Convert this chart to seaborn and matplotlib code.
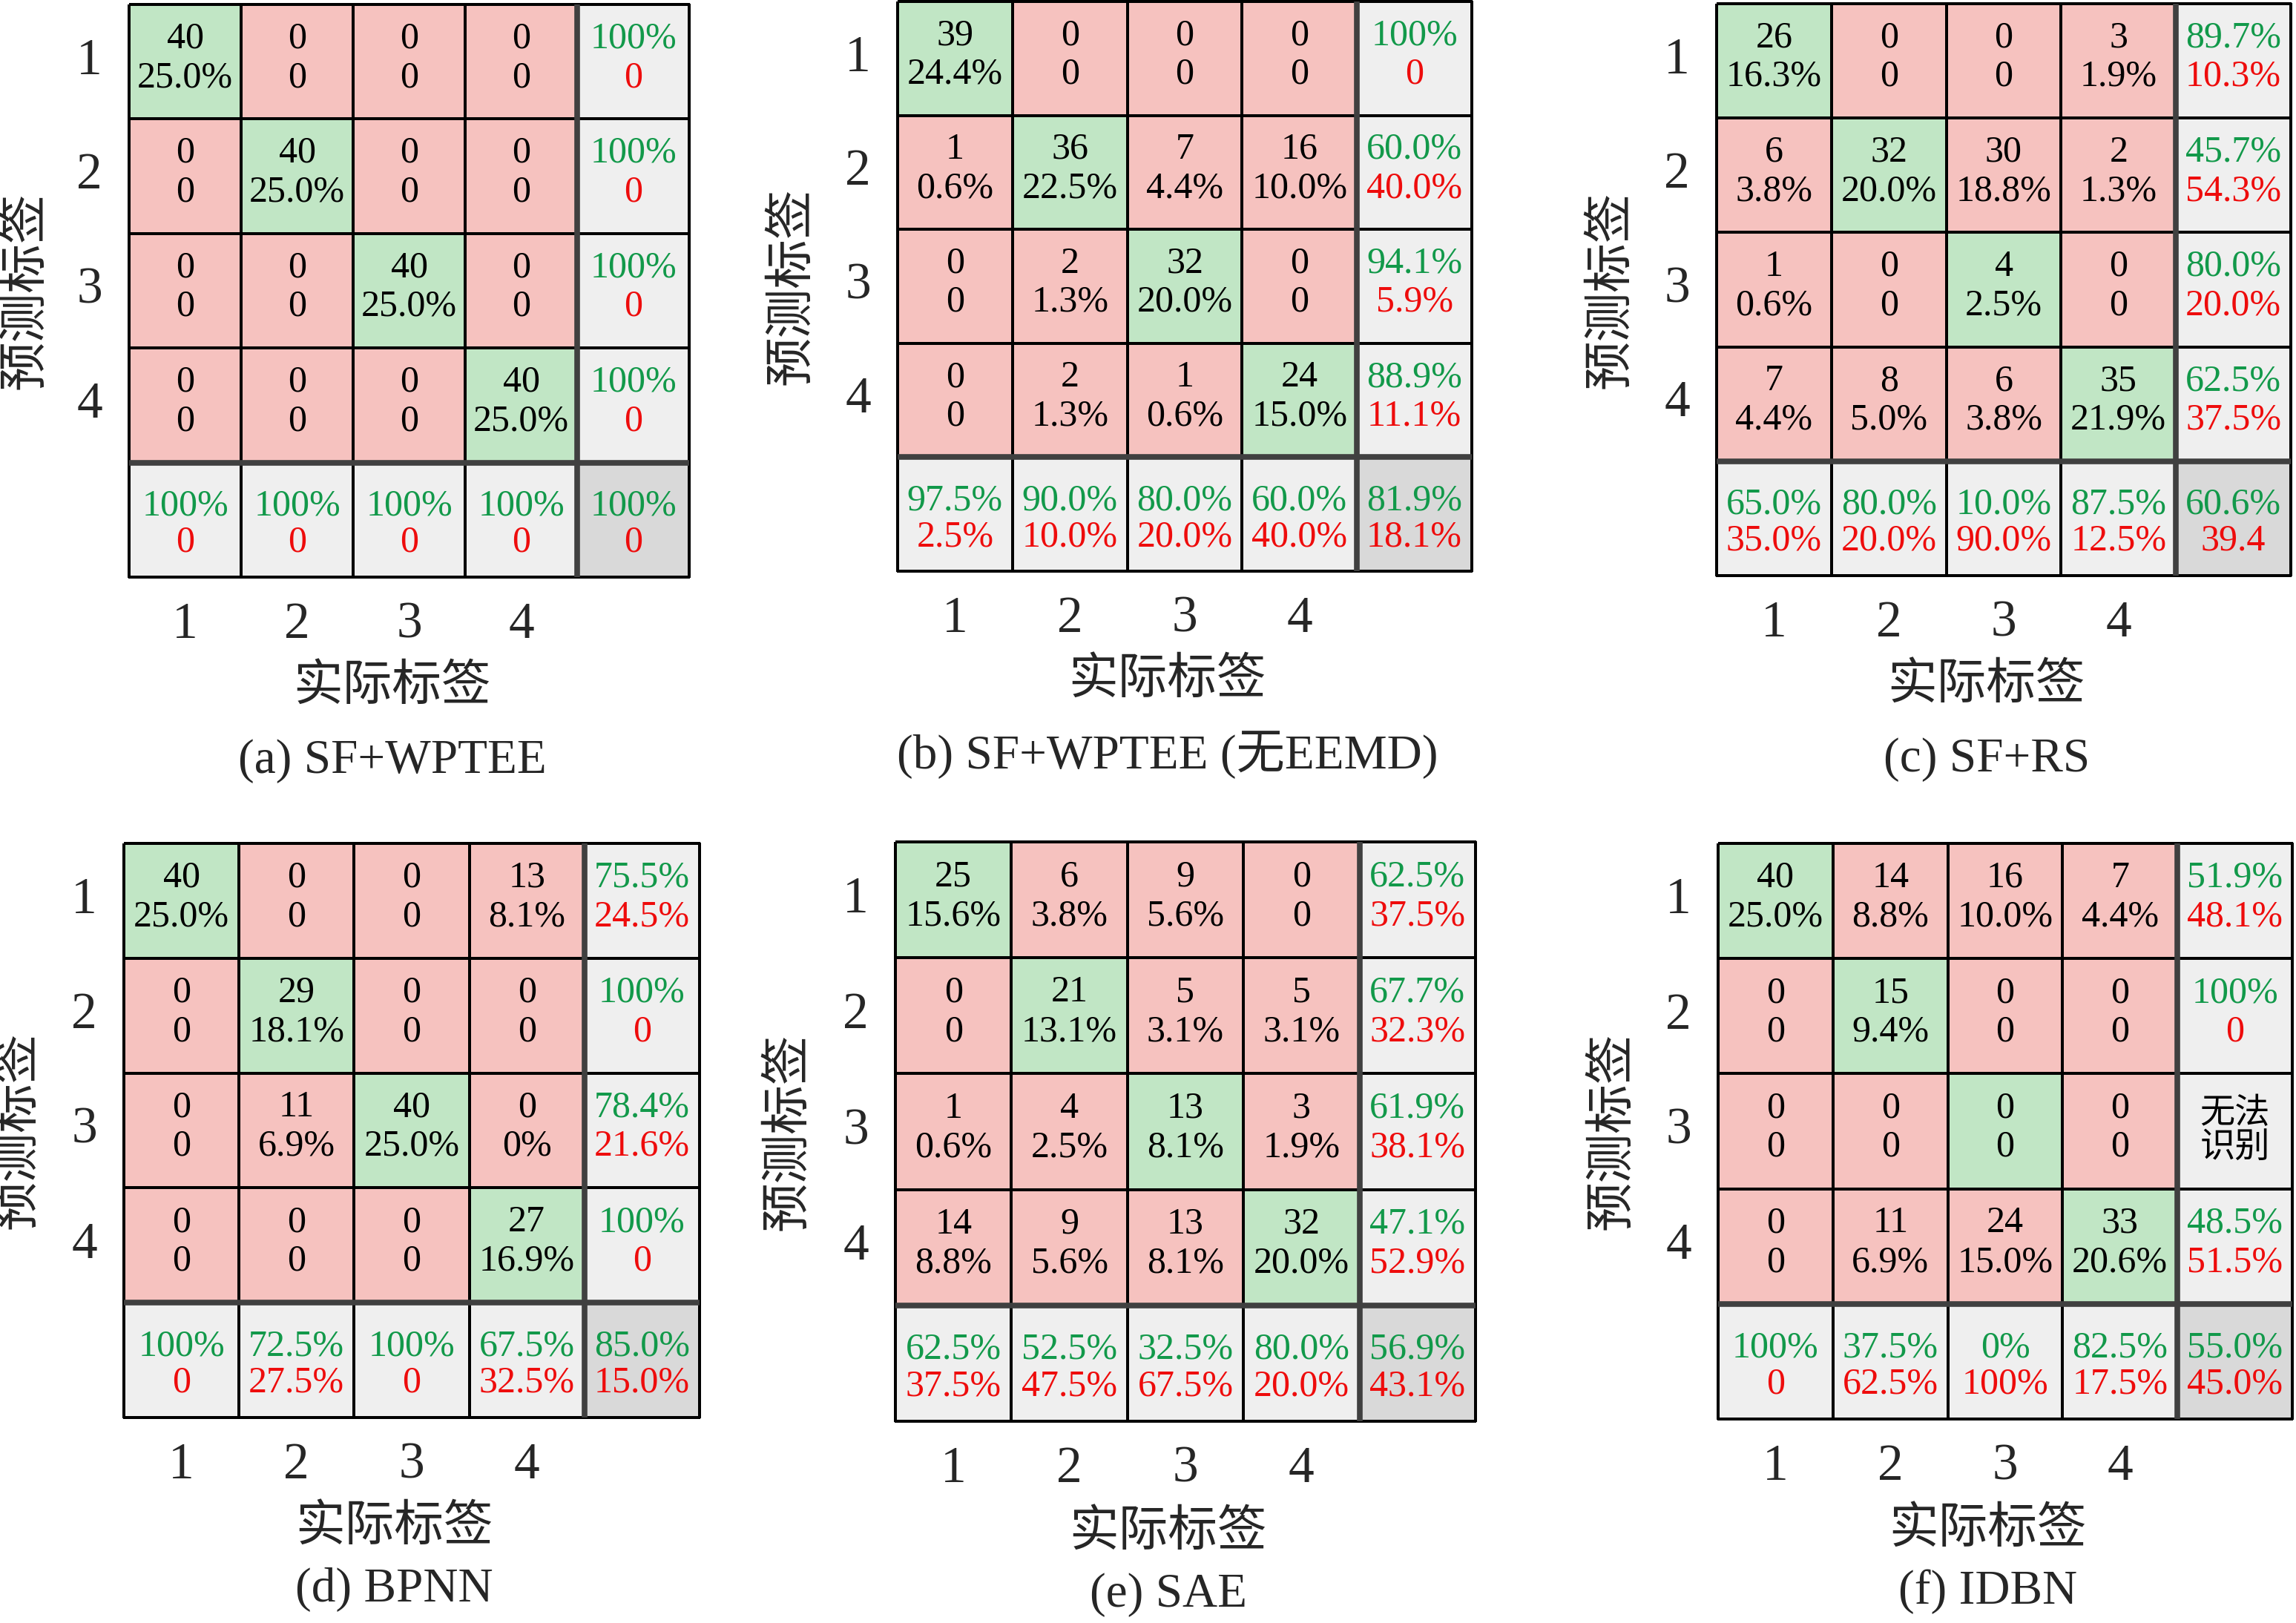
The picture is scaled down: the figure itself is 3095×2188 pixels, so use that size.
import numpy as np
import matplotlib
matplotlib.use('Agg')
import matplotlib.pyplot as plt
import seaborn as sns
from matplotlib.colors import ListedColormap

sns.set_theme(style='white')
plt.rcParams['font.family'] = ['Liberation Serif', 'Noto Sans CJK SC', 'DejaVu Sans']

classes = ['1', '2', '3', '4']
captions = ['(a) SF+WPTEE', '(b) SF+WPTEE (无EEMD)', '(c) SF+RS',
            '(d) BPNN', '(e) SAE', '(f) IDBN']

# (a) SF+WPTEE
counts_a = [[40, 0, 0, 0], [0, 40, 0, 0], [0, 0, 40, 0], [0, 0, 0, 40]]
pct_a = [['25.0%', '0', '0', '0'], ['0', '25.0%', '0', '0'],
         ['0', '0', '25.0%', '0'], ['0', '0', '0', '25.0%']]
row_ok_a = ['100%', '100%', '100%', '100%']
row_err_a = ['0', '0', '0', '0']
col_ok_a = ['100%', '100%', '100%', '100%']
col_err_a = ['0', '0', '0', '0']
total_a = ['100%', '0']

# (b) SF+WPTEE (无EEMD)
counts_b = [[39, 0, 0, 0], [1, 36, 7, 16], [0, 2, 32, 0], [0, 2, 1, 24]]
pct_b = [['24.4%', '0', '0', '0'], ['0.6%', '22.5%', '4.4%', '10.0%'],
         ['0', '1.3%', '20.0%', '0'], ['0', '1.3%', '0.6%', '15.0%']]
row_ok_b = ['100%', '60.0%', '94.1%', '88.9%']
row_err_b = ['0', '40.0%', '5.9%', '11.1%']
col_ok_b = ['97.5%', '90.0%', '80.0%', '60.0%']
col_err_b = ['2.5%', '10.0%', '20.0%', '40.0%']
total_b = ['81.9%', '18.1%']

# (c) SF+RS
counts_c = [[26, 0, 0, 3], [6, 32, 30, 2], [1, 0, 4, 0], [7, 8, 6, 35]]
pct_c = [['16.3%', '0', '0', '1.9%'], ['3.8%', '20.0%', '18.8%', '1.3%'],
         ['0.6%', '0', '2.5%', '0'], ['4.4%', '5.0%', '3.8%', '21.9%']]
row_ok_c = ['89.7%', '45.7%', '80.0%', '62.5%']
row_err_c = ['10.3%', '54.3%', '20.0%', '37.5%']
col_ok_c = ['65.0%', '80.0%', '10.0%', '87.5%']
col_err_c = ['35.0%', '20.0%', '90.0%', '12.5%']
total_c = ['60.6%', '39.4']

# (d) BPNN
counts_d = [[40, 0, 0, 13], [0, 29, 0, 0], [0, 11, 40, 0], [0, 0, 0, 27]]
pct_d = [['25.0%', '0', '0', '8.1%'], ['0', '18.1%', '0', '0'],
         ['0', '6.9%', '25.0%', '0%'], ['0', '0', '0', '16.9%']]
row_ok_d = ['75.5%', '100%', '78.4%', '100%']
row_err_d = ['24.5%', '0', '21.6%', '0']
col_ok_d = ['100%', '72.5%', '100%', '67.5%']
col_err_d = ['0', '27.5%', '0', '32.5%']
total_d = ['85.0%', '15.0%']

# (e) SAE
counts_e = [[25, 6, 9, 0], [0, 21, 5, 5], [1, 4, 13, 3], [14, 9, 13, 32]]
pct_e = [['15.6%', '3.8%', '5.6%', '0'], ['0', '13.1%', '3.1%', '3.1%'],
         ['0.6%', '2.5%', '8.1%', '1.9%'], ['8.8%', '5.6%', '8.1%', '20.0%']]
row_ok_e = ['62.5%', '67.7%', '61.9%', '47.1%']
row_err_e = ['37.5%', '32.3%', '38.1%', '52.9%']
col_ok_e = ['62.5%', '52.5%', '32.5%', '80.0%']
col_err_e = ['37.5%', '47.5%', '67.5%', '20.0%']
total_e = ['56.9%', '43.1%']

# (f) IDBN
counts_f = [[40, 14, 16, 7], [0, 15, 0, 0], [0, 0, 0, 0], [0, 11, 24, 33]]
pct_f = [['25.0%', '8.8%', '10.0%', '4.4%'], ['0', '9.4%', '0', '0'],
         ['0', '0', '0', '0'], ['0', '6.9%', '15.0%', '20.6%']]
row_ok_f = ['51.9%', '100%', '无法\n识别', '48.5%']
row_err_f = ['48.1%', '0', '', '51.5%']
col_ok_f = ['100%', '37.5%', '0%', '82.5%']
col_err_f = ['0', '62.5%', '100%', '17.5%']
total_f = ['55.0%', '45.0%']

panels = [
    (counts_a, pct_a, row_ok_a, row_err_a, col_ok_a, col_err_a, total_a),
    (counts_b, pct_b, row_ok_b, row_err_b, col_ok_b, col_err_b, total_b),
    (counts_c, pct_c, row_ok_c, row_err_c, col_ok_c, col_err_c, total_c),
    (counts_d, pct_d, row_ok_d, row_err_d, col_ok_d, col_err_d, total_d),
    (counts_e, pct_e, row_ok_e, row_err_e, col_ok_e, col_err_e, total_e),
    (counts_f, pct_f, row_ok_f, row_err_f, col_ok_f, col_err_f, total_f),
]

# axes boxes in pixels: left, top, right, bottom
W, H = 3095, 2188
boxes = [(174, 6, 929, 778), (1210, 2, 1984, 770), (2314, 5, 3088, 776),
         (167, 1137, 943, 1911), (1207, 1135, 1989, 1916), (2316, 1137, 3090, 1913)]
cap_y = [-0.322, -0.322, -0.322, -0.300, -0.300, -0.300]

c_off, c_diag, c_sum, c_tot = '#f6c2bf', '#c1e6c5', '#efefef', '#d9d9d9'
cmap = ListedColormap([c_off, c_diag, c_sum, c_tot])
green, red = '#12994a', '#ee0c0c'
fs_cell, fs_lab, fs_tick = 36, 48, 50

fig = plt.figure(figsize=(W / 100, H / 100), dpi=100)

for k, (counts, pct, rok, rerr, cok, cerr, tot) in enumerate(panels):
    l, t, r, b = boxes[k]
    ax = fig.add_axes([l / W, 1 - b / H, (r - l) / W, (b - t) / H])
    cm = np.array(counts)
    n = cm.shape[0]
    cat = np.full((n + 1, n + 1), 2)
    cat[:n, :n] = 0
    cat[np.arange(n), np.arange(n)] = 1
    cat[n, n] = 3
    sns.heatmap(cat, ax=ax, cmap=cmap, vmin=-0.5, vmax=3.5, cbar=False,
                linewidths=1.6, linecolor='black', annot=False)
    ax.collections[0].set_clip_on(False)
    ax.axvline(n, color='#404040', lw=5.5)
    ax.axhline(n, color='#404040', lw=5.5)

    for i in range(n):
        for j in range(n):
            ax.text(j + 0.5, i + 0.30, str(cm[i, j]), ha='center', va='center',
                    fontsize=fs_cell, color='black')
            ax.text(j + 0.5, i + 0.64, pct[i][j], ha='center', va='center',
                    fontsize=fs_cell, color='black')
        # row summary
        if rerr[i] == '':
            ax.text(n + 0.5, i + 0.5, rok[i], ha='center', va='center',
                    fontsize=fs_cell - 2, color='black', linespacing=1.1)
        else:
            ax.text(n + 0.5, i + 0.30, rok[i], ha='center', va='center',
                    fontsize=fs_cell, color=green)
            ax.text(n + 0.5, i + 0.64, rerr[i], ha='center', va='center',
                    fontsize=fs_cell, color=red)
        # column summary
        ax.text(i + 0.5, n + 0.38, cok[i], ha='center', va='center',
                fontsize=fs_cell, color=green)
        ax.text(i + 0.5, n + 0.70, cerr[i], ha='center', va='center',
                fontsize=fs_cell, color=red)
    ax.text(n + 0.5, n + 0.38, tot[0], ha='center', va='center',
            fontsize=fs_cell, color=green)
    ax.text(n + 0.5, n + 0.70, tot[1], ha='center', va='center',
            fontsize=fs_cell, color=red)

    ax.set_xticks(np.arange(n) + 0.5)
    ax.set_xticklabels(classes, fontsize=fs_tick, rotation=0)
    ax.set_yticks(np.arange(n) + 0.5)
    ax.set_yticklabels(classes, fontsize=fs_tick, rotation=0)
    ax.tick_params(axis='both', length=0)
    ax.tick_params(axis='x', pad=24)
    ax.tick_params(axis='y', pad=26)
    ax.set_xlabel('')
    ax.set_ylabel('')

    ax.text(-0.183, 0.5, '预测标签', transform=ax.transAxes, rotation=90,
            ha='center', va='center', fontsize=fs_lab)
    ax.text(0.47, -0.193, '实际标签', transform=ax.transAxes,
            ha='center', va='center', fontsize=fs_lab)
    ax.text(0.47, cap_y[k], captions[k], transform=ax.transAxes,
            ha='center', va='center', fontsize=fs_lab - 1)

fig.savefig('out.png', dpi=100, facecolor='white')
